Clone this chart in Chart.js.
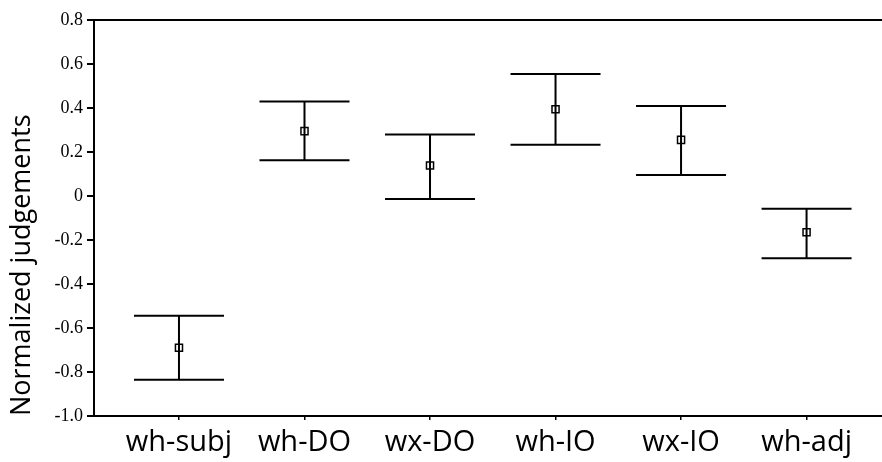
<!DOCTYPE html>
<html>
<head>
<meta charset="utf-8">
<script src="https://cdn.jsdelivr.net/npm/chart.js@4/dist/chart.umd.min.js"></script>
<style>
  html, body { margin: 0; padding: 0; background: #fff; overflow: hidden; }
  #wrap { width: 882px; height: 462px; overflow: hidden; position: relative; }
  #inner { width: 888px; height: 462px; position: relative; }
</style>
</head>
<body>
<div id="wrap"><div id="inner"><canvas id="errChart"></canvas></div></div>
<script>
// Condition labels and normalized judgement means with error bar ends
const conditions = ['wh-subj', 'wh-DO', 'wx-DO', 'wh-IO', 'wx-IO', 'wh-adj'];
const means = [-0.69, 0.295, 0.139, 0.394, 0.255, -0.165];
const upperEnds = [-0.544, 0.43, 0.279, 0.555, 0.409, -0.058];
const lowerEnds = [-0.835, 0.162, -0.014, 0.233, 0.095, -0.283];
const yTicks = [0.8, 0.6, 0.4, 0.2, 0, -0.2, -0.4, -0.6, -0.8, -1.0];

/**
 * Draws the vertical whiskers and caps behind the markers,
 * plus the frame line along the top of the plot area
 */
const errorBarPlugin = {
    id: 'errorBars',
    beforeDatasetsDraw(chart, args, opts) {
        const ctx = chart.ctx;
        const xs = chart.scales.x;
        const ys = chart.scales.y;
        ctx.save();
        ctx.strokeStyle = '#000';
        ctx.lineWidth = 2;
        conditions.forEach((c, i) => {
            const x = xs.getPixelForValue(i);
            const yHi = ys.getPixelForValue(upperEnds[i]);
            const yLo = ys.getPixelForValue(lowerEnds[i]);
            ctx.beginPath();
            ctx.moveTo(x, yHi);
            ctx.lineTo(x, yLo);
            ctx.moveTo(x - opts.capHalf, yHi);
            ctx.lineTo(x + opts.capHalf, yHi);
            ctx.moveTo(x - opts.capHalf, yLo);
            ctx.lineTo(x + opts.capHalf, yLo);
            ctx.stroke();
        });
        // top frame line
        const area = chart.chartArea;
        ctx.beginPath();
        ctx.moveTo(area.left, area.top);
        ctx.lineTo(area.right + 8, area.top);
        ctx.stroke();
        ctx.restore();
    }
};

const ctx = document.getElementById('errChart');

window.errChart = new Chart(ctx, {
    type: 'scatter',
    data: {
        datasets: [{
            data: means.map((m, i) => ({ x: i, y: m })),
            pointStyle: 'rect',
            pointRadius: 5,
            pointHoverRadius: 5,
            pointBorderWidth: 1.5,
            pointBorderColor: '#000',
            pointBackgroundColor: 'rgba(0,0,0,0)'
        }]
    },
    options: {
        responsive: true,
        maintainAspectRatio: false,
        animation: false,
        layout: { padding: { top: 20, right: 0, bottom: 0, left: 0 } },
        plugins: {
            legend: { display: false },
            tooltip: { enabled: false },
            errorBars: { capHalf: 45 }
        },
        scales: {
            x: {
                type: 'linear',
                min: -0.677,
                max: 5.597,
                afterBuildTicks: (scale) => {
                    scale.ticks = conditions.map((c, i) => ({ value: i }));
                },
                afterFit: (scale) => { scale.height = 46; },
                grid: {
                    display: true,
                    drawOnChartArea: false,
                    drawTicks: true,
                    tickLength: 4,
                    color: '#000',
                    lineWidth: 1.5
                },
                border: { display: true, color: '#000', width: 2 },
                ticks: {
                    autoSkip: false,
                    maxRotation: 0,
                    padding: 5,
                    color: '#000',
                    font: { family: '"Open Sans", sans-serif', size: 29 },
                    callback: (v) => conditions[v]
                }
            },
            y: {
                min: -1.0,
                max: 0.8,
                afterBuildTicks: (scale) => {
                    scale.ticks = yTicks.map(v => ({ value: v }));
                },
                afterFit: (scale) => { scale.width = 94; },
                grid: {
                    display: true,
                    drawOnChartArea: false,
                    drawTicks: true,
                    tickLength: 7,
                    color: '#000',
                    lineWidth: 2
                },
                border: { display: true, color: '#000', width: 2 },
                ticks: {
                    padding: 4,
                    color: '#000',
                    font: { family: '"Liberation Serif", serif', size: 18 },
                    callback: (v) => (v === 0 ? '0' : v.toFixed(1))
                },
                title: {
                    display: true,
                    text: 'Normalized judgements',
                    align: 'start',
                    color: '#000',
                    padding: { top: 6, bottom: 0 },
                    font: { family: '"Open Sans", sans-serif', size: 27 }
                }
            }
        }
    },
    plugins: [errorBarPlugin]
});
</script>
</body>
</html>
